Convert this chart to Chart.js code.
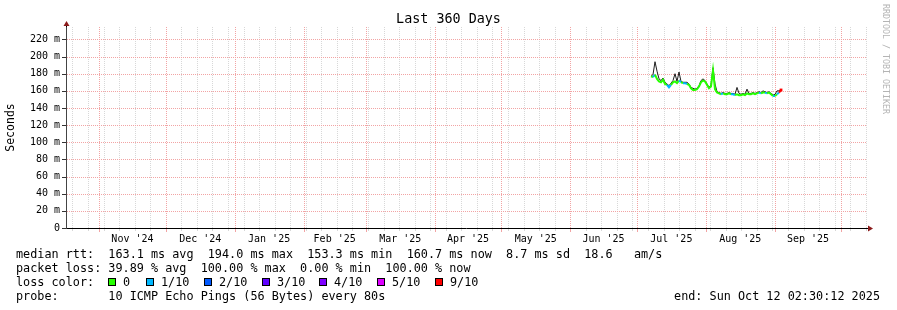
<!DOCTYPE html>
<html>
<head>
<meta charset="utf-8">
<title>Last 360 Days</title>
<script src="https://cdn.jsdelivr.net/npm/chart.js@4.4.1/dist/chart.umd.min.js"></script>
<style>
  html, body { margin: 0; padding: 0; background: #fff; }
  #wrap { position: relative; width: 897px; height: 310px; font-family: "DejaVu Sans Mono", monospace; color: #000; }
  #chart { position: absolute; left: 0; top: 0; }
  .row { position: absolute; left: 16px; font-size: 11.8px; line-height: 14px; white-space: pre; }
  .box { position: absolute; top: 278px; width: 6px; height: 6px; border: 1px solid #000; }
  .lbl { position: absolute; top: 275px; font-size: 11.8px; line-height: 14px; white-space: pre; }
  #end { position: absolute; right: 17px; top: 289px; font-size: 11.8px; line-height: 14px; white-space: pre; }
  #credit { position: absolute; left: 881px; top: 4px; writing-mode: vertical-rl; font-size: 8.3px; line-height: 10px; color: #b4b4b4; white-space: pre; }
</style>
</head>
<body>
<div id="wrap">
  <canvas id="chart" width="897" height="310"></canvas>
  <div class="row" style="top:247px">median rtt:  163.1 ms avg  194.0 ms max  153.3 ms min  160.7 ms now  8.7 ms sd  18.6   am/s</div>
  <div class="row" style="top:261px">packet loss: 39.89 % avg  100.00 % max  0.00 % min  100.00 % now</div>
  <div class="row" style="top:275px">loss color:</div>
  <div class="row" style="top:289px">probe:       10 ICMP Echo Pings (56 Bytes) every 80s</div>
  <div id="end">end: Sun Oct 12 02:30:12 2025</div>
  <div id="credit">RRDTOOL / TOBI OETIKER</div>
</div>
<script>
// time window of the graph
const windowEnd = Date.UTC(2025, 9, 12, 2, 30, 12);
const windowDays = 360;
const dayMs = 86400000;
const windowStart = windowEnd - windowDays * dayMs;

// x axis: month boundaries, labels, weekly grid
const monthStarts = ["2024-11-01", "2024-12-01", "2025-01-01", "2025-02-01", "2025-03-01", "2025-04-01",
                     "2025-05-01", "2025-06-01", "2025-07-01", "2025-08-01", "2025-09-01", "2025-10-01"];
const monthLabels = ["Nov '24", "Dec '24", "Jan '25", "Feb '25", "Mar '25", "Apr '25",
                     "May '25", "Jun '25", "Jul '25", "Aug '25", "Sep '25"];
const firstWeekLine = "2024-10-20";

// y axis (ms)
const yTickValues = [0, 10, 20, 30, 40, 50, 60, 70, 80, 90, 100, 110, 120, 130, 140, 150, 160, 170, 180, 190, 200, 210, 220, 230];
const yMax = 234.5;

// samples (one every ~0.9 day, starting early July 2025)
const sampleStartDay = 263.25;
const sampleStepDays = 0.9;
const medianRtt = [177, 176, 179, 174, 171, 170, 173, 168, 167, 164,
                   167, 170, 171, 169, 172, 170, 169, 169, 168, 167,
                   163, 161, 161, 162, 165, 170, 172, 171, 167, 163,
                   165, 184, 162, 158, 157, 156, 157, 156, 156, 157,
                   156, 156, 155, 156, 155, 155, 156, 155, 157, 156,
                   156, 157, 156, 157, 158, 157, 158, 158, 157, 158,
                   156, 154, 154, 156, 158, 161];
const smokeTop = [177, 179, 194, 183, 174, 172, 175, 170, 168, 166,
                  169, 172, 180, 171, 182, 171, 170, 170, 170, 168,
                  164, 163, 162, 163, 166, 172, 174, 172, 168, 164,
                  167, 187, 168, 159, 158, 157, 158, 157, 157, 158,
                  157, 157, 156, 164, 157, 156, 157, 156, 162, 157,
                  157, 158, 157, 158, 159, 158, 160, 159, 158, 159,
                  157, 155, 156, 160, 160, 161];
const lossTenths = [0, 0, 1, 0, 0, 0, 0, 0, 0, 1,
                    1, 0, 0, 0, 0, 1, 0, 1, 1, 0,
                    0, 0, 0, 0, 0, 0, 0, 0, 0, 0,
                    0, 0, 0, 0, 0, 0, 1, 0, 0, 0,
                    0, 1, 1, 0, 0, 0, 0, 0, 0, 0,
                    0, 0, 0, 0, 0, 1, 0, 0, 1, 0,
                    0, 0, 1, 0, 1, 9];

// loss legend
const lossSteps = [0, 1, 2, 3, 4, 5, 9];
const lossStepLabels = ["0", "1/10", "2/10", "3/10", "4/10", "5/10", "9/10"];
const lossColors = { 0: "#26ff00", 1: "#00b8ff", 2: "#0059ff", 3: "#5e00ff", 4: "#7e00ff", 5: "#dd00ff", 9: "#ff0000" };

const mono = "'DejaVu Sans Mono', monospace";
const majorGrid = "#f2a4a4";
const minorGrid = "#d8d8d8";

function dayOf(iso) {
    return (Date.parse(iso + "T00:00:00Z") - windowStart) / dayMs;
}

function buildXTicks(scale) {
    const ticks = [];
    for (let t = Date.parse(firstWeekLine + "T00:00:00Z"); t < windowEnd; t += 7 * dayMs) {
        ticks.push({ value: (t - windowStart) / dayMs, kind: "week" });
    }
    monthStarts.forEach(m => ticks.push({ value: dayOf(m), kind: "month" }));
    monthLabels.forEach((text, i) => {
        ticks.push({ value: (dayOf(monthStarts[i]) + dayOf(monthStarts[i + 1])) / 2, kind: "label", text });
    });
    ticks.sort((a, b) => a.value - b.value);
    scale.ticks = ticks;
}

const points = v => v.map((y, i) => ({ x: sampleStartDay + i * sampleStepDays, y }));

// dotted rrdtool style grid + tick marks, placed with the chart's own scales
const rrdGrid = {
    id: "rrdGrid",
    beforeDatasetsDraw(chart) {
        const { ctx, chartArea: a, scales: { x, y } } = chart;
        const top = Math.round(a.top), bottom = Math.round(a.bottom), left = Math.round(a.left);
        const seg = (x1, y1, x2, y2, color, dash) => {
            ctx.strokeStyle = color;
            ctx.setLineDash(dash);
            ctx.beginPath();
            ctx.moveTo(x1, y1);
            ctx.lineTo(x2, y2);
            ctx.stroke();
        };
        ctx.save();
        ctx.lineWidth = 1;
        x.ticks.forEach(t => {
            if (t.kind === "label") return;
            const px = Math.round(x.getPixelForValue(t.value)) + 0.5;
            const col = t.kind === "month" ? majorGrid : minorGrid;
            seg(px, top, px, bottom, col, [1, 1]);
            seg(px, bottom + 1, px, bottom + (t.kind === "month" ? 4 : 3), col, []);
        });
        y.ticks.forEach(t => {
            const py = Math.round(y.getPixelForValue(t.value)) + 0.5;
            if (t.value > 0) {
                seg(left + 1, py, a.right, py, t.value % 20 === 0 ? majorGrid : minorGrid, [1, 1]);
            }
            if (t.value % 20 === 0) seg(left - 4, py, left, py, "#333", []);
        });
        ctx.restore();
    }
};

// small axis arrows, like rrdtool
const axisArrows = {
    id: "axisArrows",
    afterDraw(chart) {
        const { ctx, chartArea: a } = chart;
        ctx.save();
        ctx.strokeStyle = "#000";
        ctx.lineWidth = 1;
        ctx.beginPath();
        ctx.moveTo(a.right, a.bottom + 0.5);
        ctx.lineTo(a.right + 2, a.bottom + 0.5);
        ctx.moveTo(a.left + 0.5, a.top);
        ctx.lineTo(a.left + 0.5, a.top - 1);
        ctx.stroke();
        ctx.fillStyle = "#8b1a1a";
        ctx.beginPath();
        ctx.moveTo(a.right + 2, a.bottom - 2.5);
        ctx.lineTo(a.right + 7, a.bottom + 0.5);
        ctx.lineTo(a.right + 2, a.bottom + 3.5);
        ctx.fill();
        ctx.beginPath();
        ctx.moveTo(a.left - 2.5, a.top - 1);
        ctx.lineTo(a.left + 0.5, a.top - 6);
        ctx.lineTo(a.left + 3.5, a.top - 1);
        ctx.fill();
        ctx.restore();
    }
};

new Chart(document.getElementById("chart"), {
    type: "line",
    data: {
        datasets: [{
            label: "median rtt",
            data: points(medianRtt),
            borderWidth: 2,
            borderColor: lossColors[0],
            segment: { borderColor: c => lossColors[lossTenths[c.p1DataIndex]] },
            pointRadius: c => c.dataIndex === medianRtt.length - 1 ? 2 : 0,
            pointStyle: "rect",
            pointBackgroundColor: lossColors[9],
            pointBorderWidth: 0,
            tension: 0
        }, {
            label: "smoke",
            data: points(smokeTop),
            borderWidth: 1,
            borderColor: "#1e1e1e",
            pointRadius: 0,
            tension: 0
        }]
    },
    options: {
        responsive: false,
        animation: false,
        events: [],
        layout: { padding: 0 },
        plugins: {
            legend: { display: false },
            tooltip: { enabled: false },
            title: {
                display: true,
                text: "Last 360 Days",
                color: "#000",
                font: { family: mono, size: 13.4, weight: "normal", lineHeight: "15px" },
                padding: { top: 12, bottom: 0 }
            }
        },
        scales: {
            x: {
                type: "linear",
                min: 0,
                max: windowDays,
                afterBuildTicks: buildXTicks,
                afterFit: s => { s.height = 82; },
                ticks: {
                    autoSkip: false,
                    maxRotation: 0,
                    minRotation: 0,
                    padding: 5,
                    color: "#000",
                    font: { family: mono, size: 10 },
                    callback: (v, i, ticks) => ticks[i].kind === "label" ? ticks[i].text : ""
                },
                grid: { display: false, drawTicks: false },
                border: { display: true, color: "#000", width: 1 }
            },
            y: {
                min: 0,
                max: yMax,
                afterBuildTicks: s => { s.ticks = yTickValues.map(v => ({ value: v })); },
                afterFit: s => { s.width = 66; },
                ticks: {
                    padding: 6,
                    color: "#000",
                    font: { family: mono, size: 10 },
                    callback: v => v % 20 === 0 ? (v === 0 ? "0" : v + " m") : ""
                },
                grid: { display: false, drawTicks: false },
                border: { display: true, color: "#444", width: 1 },
                title: {
                    display: true,
                    text: "Seconds",
                    color: "#000",
                    font: { family: mono, size: 11.5 },
                    padding: { top: 4, bottom: 4 }
                }
            },
            // empty right-hand strip so the title stays centred on the whole image
            yRight: {
                position: "right",
                min: 0,
                max: 1,
                afterFit: s => { s.width = 31; },
                ticks: { display: false },
                grid: { display: false, drawTicks: false },
                border: { display: false }
            }
        }
    },
    plugins: [rrdGrid, axisArrows]
});

// loss colour legend boxes
const wrap = document.getElementById("wrap");
const boxLefts = [108, 146, 204, 262, 319, 377, 435];
lossSteps.forEach((step, i) => {
    const box = document.createElement("div");
    box.className = "box";
    box.style.left = boxLefts[i] + "px";
    box.style.background = lossColors[step];
    wrap.appendChild(box);
    const lbl = document.createElement("div");
    lbl.className = "lbl";
    lbl.style.left = (boxLefts[i] + 15) + "px";
    lbl.textContent = lossStepLabels[i];
    wrap.appendChild(lbl);
});
</script>
</body>
</html>
